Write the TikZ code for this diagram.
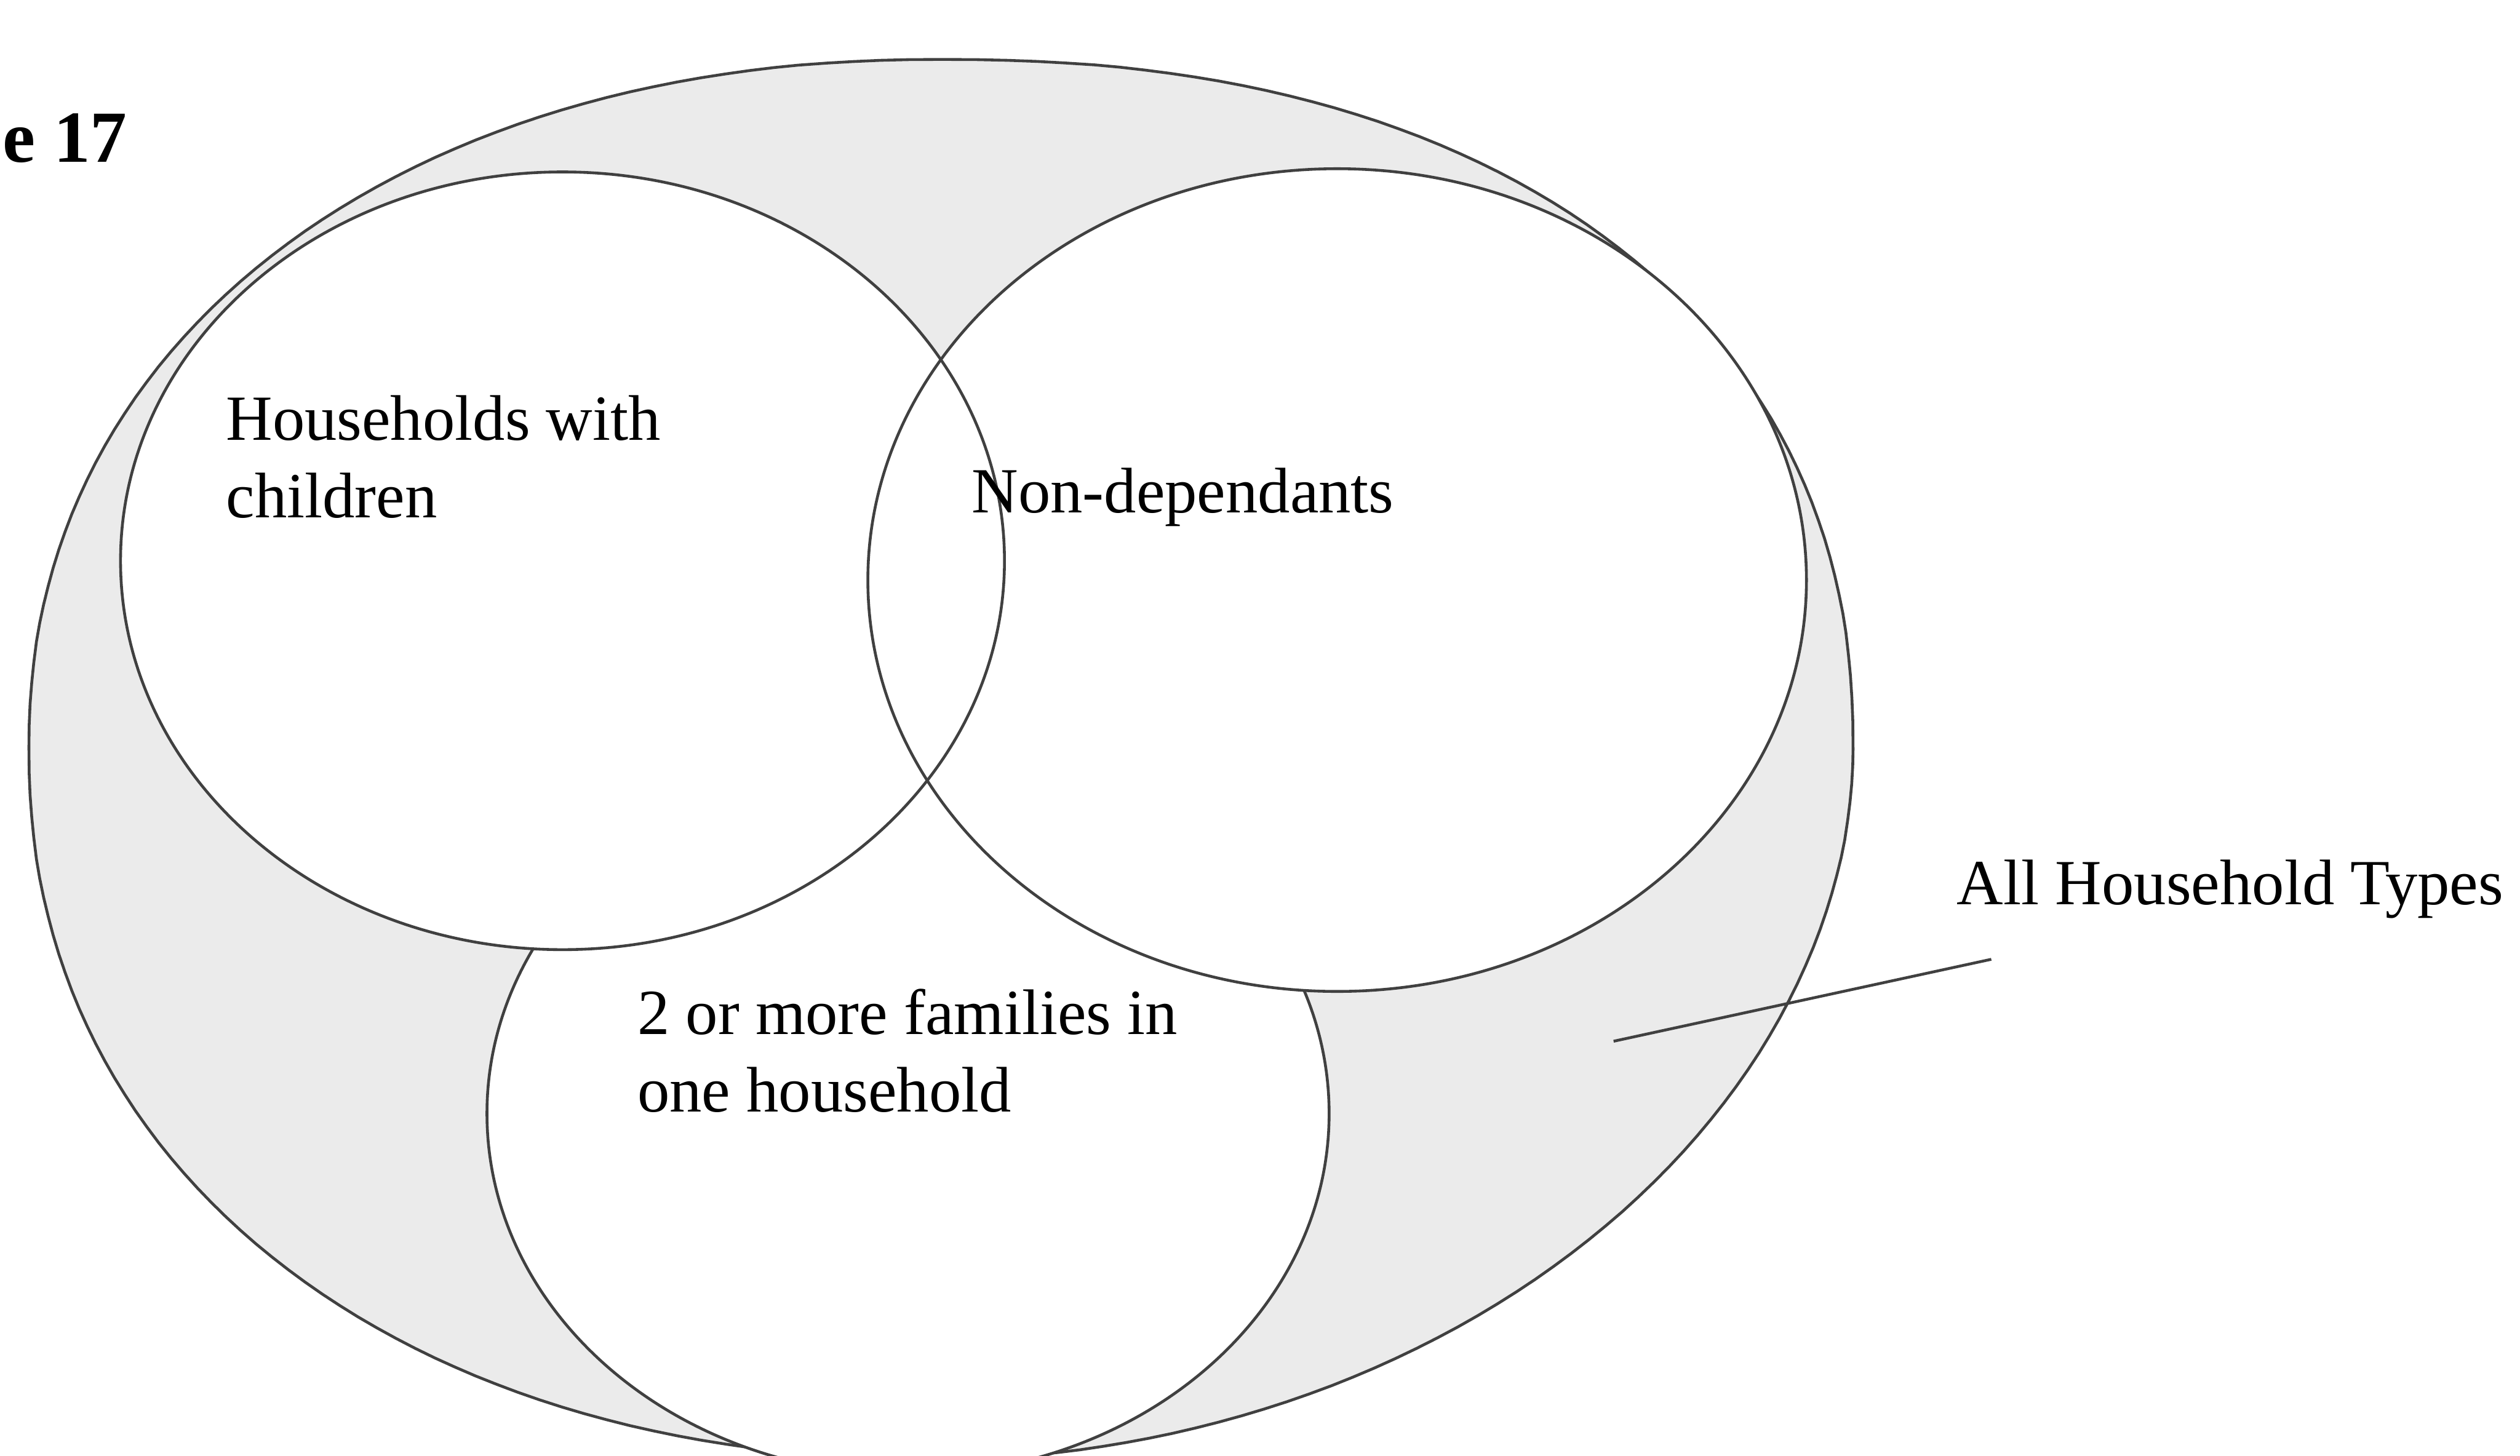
\documentclass[tikz,border=0pt]{standalone}
\usepackage{fontspec}
\setmainfont{Liberation Serif}
\begin{document}
\begin{tikzpicture}[
	menge/.style={line width=0.5pt, draw=black!75},
	beschriftung/.style={inner sep=0pt, anchor=base west, align=left, font=\fontsize{11.4}{13.7}\selectfont}
]
	\useasboundingbox (0,0) rectangle (15.68,9.06);
	% Grundmenge: alle Haushalte (vier Viertel, oben etwas flacher)
	\draw [menge, fill=black!8]
		plot [domain=0:90, samples=60] ({5.85+5.68*pow(max(cos(\x),0.0001),2/2.25)}, {4.40+4.29*pow(max(sin(\x),0.0001),2/2.25)})
		-- plot [domain=90:180, samples=60] ({5.85-5.67*pow(max(-cos(\x),0.0001),2/2.15)}, {4.40+4.29*pow(max(sin(\x),0.0001),2/2.15)})
		-- plot [domain=180:270, samples=60] ({5.85-5.67*pow(max(-cos(\x),0.0001),2/2.15)}, {4.40-4.42*pow(max(-sin(\x),0.0001),2/2.15)})
		-- plot [domain=270:360, samples=60] ({5.85+5.68*pow(max(cos(\x),0.0001),2/1.95)}, {4.40-4.42*pow(max(-sin(\x),0.0001),2/1.95)})
		-- cycle;
	% zwei oder mehr Familien
	\draw [menge, fill=white] (5.65,2.13) ellipse [x radius=2.62, y radius=2.25];
	% Haushalte mit Kindern und Nicht-Abhaengige
	\fill [white] (3.50,5.57) ellipse [x radius=2.75, y radius=2.42];
	\fill [white] (8.32,5.45) ellipse [x radius=2.92, y radius=2.56];
	\draw [menge] (3.50,5.57) ellipse [x radius=2.75, y radius=2.42];
	\draw [menge] (8.32,5.45) ellipse [x radius=2.92, y radius=2.56];
	% Texte
	\node [beschriftung] (kinder) at (1.40,5.84) {Households with\\children};
	\node [beschriftung] (nichtabh) at (6.04,5.87) {Non-dependants};
	\node [beschriftung] (familien) at (3.96,2.14) {2 or more families in\\one household};
	\node [beschriftung] (alle) at (12.17,3.43) {All Household Types};
	\node [inner sep=0pt, anchor=base west, font=\fontsize{13}{15}\selectfont\bfseries] (nummer) at (0.01,8.05) {e 17};
	% Hinweislinie
	\coordinate (zeiger) at (10.04,2.58);
	\coordinate (zeigerende) at ([shift={(0.22,-0.34)}]alle.base west);
	\draw [menge] (zeiger) -- (zeigerende);
\end{tikzpicture}
\end{document}
